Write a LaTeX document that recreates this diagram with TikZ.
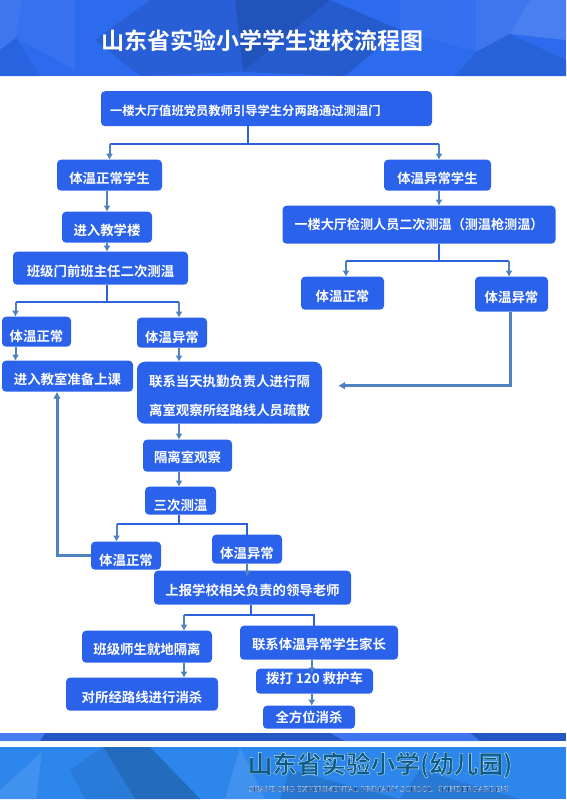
\documentclass[tikz,border=0pt]{standalone}
\usepackage{fontspec}
\setmainfont{Noto Sans CJK SC}[BoldFont={* Bold}]
\newfontfamily\logofont{Noto Sans CJK SC}[BoldFont={* Bold}]
\newfontfamily\enfont{Liberation Serif}
\usetikzlibrary{arrows.meta,positioning}
\definecolor{boxblue}{HTML}{2B62EC}
\definecolor{forkblue}{HTML}{2C62DC}
\definecolor{flowsteel}{HTML}{4F82BE}
\definecolor{headbase}{HTML}{2C6AEE}
\definecolor{footbase}{HTML}{2C86EC}
\definecolor{logoteal}{HTML}{0F5A82}

\begin{document}
\begin{tikzpicture}[x=1pt,y=-1pt,>=Latex,
 every node/.style={font=\fontsize{13.4}{15}\selectfont\bfseries,text=white,align=center},
 flowbox/.style={fill=boxblue,rounded corners=4pt,inner sep=0pt,outer sep=0pt},
 lowtext/.style={text height=16.2pt,text depth=0pt},
 lowertext/.style={text height=19.2pt,text depth=0pt},
 uptext/.style={text height=11.8pt,text depth=6.6pt},
 forkline/.style={draw=forkblue,line width=1.8pt},
 flowtip/.style={draw=flowsteel,line width=2pt,-{Latex[length=6pt,width=7pt]}},
 backline/.style={draw=flowsteel,line width=3pt,-{Latex[length=7pt,width=8pt]}}]
    \useasboundingbox (0,0) rectangle (566,800);
    % header
    \fill[headbase] (0,0) rectangle (566,76);
    \fill[color=black!22!headbase] (235,0) -- (330,0) -- (243,72) -- cycle;
    \fill[color=black!10!headbase] (150,0) -- (235,0) -- (243,72) -- (140,76) -- (95,40) -- cycle;
    \fill[color=black!14!headbase] (330,0) -- (243,72) -- (345,76) -- (400,30) -- cycle;
    \fill[color=white!8!headbase] (0,0) -- (22,0) -- (16,38) -- (0,50) -- cycle;
    \fill[color=white!5!headbase] (22,0) -- (75,0) -- (75,70) -- (16,38) -- cycle;
    \fill[color=black!6!headbase] (0,50) -- (16,38) -- (40,76) -- (0,76) -- cycle;
    \fill[color=white!4!headbase] (400,0) -- (476,0) -- (476,52) -- (400,30) -- cycle;
    \fill[color=white!8!headbase] (476,0) -- (530,0) -- (510,34) -- (476,52) -- cycle;
    \fill[color=white!14!headbase] (530,0) -- (566,0) -- (566,40) -- (510,34) -- cycle;
    \fill[color=black!8!headbase] (476,52) -- (510,34) -- (566,60) -- (566,76) -- (455,76) -- cycle;
    \node[font=\fontsize{23}{27}\selectfont\bfseries] (title) at (262.5,40.5) {山东省实验小学学生进校流程图};
    % footer
    \fill[color=black!18!headbase] (0,733) rectangle (566,741);
    \fill[color=white!12!headbase] (0,733) -- (45,733) -- (40,741) -- (0,741) -- cycle;
    \fill[color=white!8!headbase] (330,733) -- (470,733) -- (480,741) -- (345,741) -- cycle;
    \fill[footbase] (0,747) rectangle (566,799);
    \fill[color=white!10!footbase] (0,790) -- (42,752) -- (36,799) -- (0,799) -- cycle;
    \fill[color=black!20!footbase] (103,747) -- (150,747) -- (200,799) -- (135,799) -- cycle;
    \fill[color=black!8!footbase] (70,770) -- (103,747) -- (135,799) -- (85,799) -- cycle;
    \fill[color=white!10!footbase] (240,747) -- (265,799) -- (225,799) -- cycle;
    \fill[color=black!12!footbase] (290,770) -- (400,799) -- (280,799) -- cycle;
    \fill[color=black!10!footbase] (420,770) -- (520,799) -- (400,799) -- cycle;
    \node[font=\fontsize{24.6}{29}\selectfont\logofont\bfseries,text=logoteal] (logo) at (380,765)
      {\special{pdf:literal direct 2 Tr 0.4 w 0.75 0.9 0.96 RG}山东省实验小学(幼儿园)\special{pdf:literal direct 0 Tr}};
    \node[font=\fontsize{8.2}{11}\selectfont\enfont,text=black!70!blue] (logoen) at (381.5,788.5)
      {\special{pdf:literal direct 2 Tr 0.12 w 0.75 0.9 0.96 RG}SHANDONG EXPERIMENTAL PRIMARY SCHOOL{\logofont （}KINDERGARDEN{\logofont ）}\special{pdf:literal direct 0 Tr}};
    % boxes
    \node[flowbox,minimum width=331pt,minimum height=35pt,font=\fontsize{12.3}{15}\selectfont\bfseries,text width=313pt,align=left,text height=13.2pt,text depth=0pt] (hall) at (266.5,108.7)
      {一楼大厅值班党员教师引导学生分两路通过测温门};
    \node[flowbox,lowtext,minimum width=105pt,minimum height=31pt,below=33.5pt of hall,xshift=-157pt] (okfirst) {体温正常学生};
    \node[flowbox,lowtext,minimum width=107pt,minimum height=31pt,below=33.5pt of hall,xshift=171pt] (badfirst) {体温异常学生};
    \node[flowbox,lowtext,minimum width=90pt,minimum height=31pt,below=21pt of okfirst,xshift=-2.5pt] (enter) {进入教学楼};
    \node[flowbox,lowtext,minimum width=175pt,minimum height=33pt,below=9pt of enter,xshift=-6.5pt] (classdoor) {班级门前班主任二次测温};
    \node[flowbox,lowertext,minimum width=69pt,minimum height=30pt,below=32pt of classdoor,xshift=-64pt] (oksecond) {体温正常};
    \node[flowbox,lowertext,minimum width=70pt,minimum height=30pt,below=33pt of classdoor,xshift=71.5pt] (badsecond) {体温异常};
    \node[flowbox,lowtext,minimum width=131pt,minimum height=31pt,below=14pt of oksecond,xshift=31pt] (classroom) {进入教室准备上课};
    \node[flowbox,rounded corners=8pt,minimum width=185pt,minimum height=62pt,below=14pt of badsecond,xshift=57.5pt] (contact)
      {\rule{0pt}{17.4pt}联系当天执勤负责人进行隔\\[14pt]离室观察所经路线人员疏散};
    \node[flowbox,minimum width=89pt,minimum height=32pt,below=16pt of contact,xshift=-42pt,text height=13.2pt,text depth=0pt] (isolate) {隔离室观察};
    \node[flowbox,lowertext,minimum width=71pt,minimum height=28pt,below=15pt of isolate,xshift=-7pt] (third) {三次测温};
    \node[flowbox,lowertext,minimum width=70pt,minimum height=28pt,below=27pt of third,xshift=-54.5pt] (okthird) {体温正常};
    \node[flowbox,lowertext,minimum width=70pt,minimum height=29pt,below=20pt of third,xshift=66.5pt] (badthird) {体温异常};
    \node[flowbox,lowtext,minimum width=197pt,minimum height=34pt,below=7pt of badthird,xshift=5.5pt] (report) {上报学校相关负责的领导老师};
    \node[flowbox,lowtext,minimum width=130pt,minimum height=32pt,below=26pt of report,xshift=-105.5pt] (quarantine) {班级师生就地隔离};
    \node[flowbox,text height=14.2pt,text depth=0pt,minimum width=158pt,minimum height=34pt,below=21pt of report,xshift=66.5pt] (parents) {联系体温异常学生家长};
    \node[flowbox,lowtext,minimum width=152pt,minimum height=33pt,below=15pt of quarantine,xshift=-5pt] (disinfect) {对所经路线进行消杀};
    \node[flowbox,uptext,minimum width=117pt,minimum height=25pt,below=9pt of parents,xshift=-4.5pt] (ambulance) {拨打 120 救护车};
    \node[flowbox,minimum width=92pt,minimum height=23pt,below=12pt of ambulance,xshift=-5.5pt] (cleanall) {全方位消杀};
    \node[flowbox,font=\fontsize{13.1}{15}\selectfont\bfseries,minimum width=273pt,minimum height=38pt,below=15pt of badfirst,xshift=-18.5pt] (recheck) {一楼大厅检测人员二次测温（测温枪测温）};
    \node[flowbox,lowtext,minimum width=83pt,minimum height=33pt,below=33pt of recheck,xshift=-76.5pt] (okright) {体温正常};
    \node[flowbox,lowtext,minimum width=73pt,minimum height=35pt,below=33pt of recheck,xshift=92.5pt] (badright) {体温异常};
    % branch points
    \coordinate[below=17.5pt of hall,xshift=-18.5pt] (hallfork);
    \coordinate[below=17pt of classdoor,xshift=6.5pt] (doorfork);
    \coordinate[below=9pt of third,xshift=-1.5pt] (thirdfork);
    \coordinate[below=10pt of report,xshift=-1.8pt] (reportfork);
    \coordinate[below=17.5pt of recheck,xshift=20pt] (recheckfork);
    \coordinate[right=16pt of contact,yshift=7pt] (contactin);
    % connectors
    \draw[forkline] (hallfork|-hall.south) -- (hallfork);
    \draw[forkline] (okfirst.north|-hallfork) -- ([xshift=1.5pt]badfirst.north|-hallfork);
    \draw[flowtip] (okfirst.north|-hallfork) -- (okfirst.north);
    \draw[flowtip] ([xshift=1.5pt]badfirst.north|-hallfork) -- ([xshift=1.5pt]badfirst.north);
    \draw[flowtip] (enter.north|-okfirst.south) -- (enter.north);
    \draw[flowtip] (enter.south) -- (enter.south|-classdoor.north);
    \draw[forkline] (doorfork|-classdoor.south) -- (doorfork);
    \draw[forkline] ([xshift=-21pt]oksecond.north|-doorfork) -- ([xshift=7pt]badsecond.north|-doorfork);
    \draw[flowtip] ([xshift=-21pt]oksecond.north|-doorfork) -- ([xshift=-21pt]oksecond.north);
    \draw[flowtip] ([xshift=7pt]badsecond.north|-doorfork) -- ([xshift=7pt]badsecond.north);
    \draw[flowtip] ([xshift=-21pt]oksecond.south) -- ([xshift=-21pt]oksecond.south|-classroom.north);
    \draw[flowtip] ([xshift=7pt]badsecond.south) -- ([xshift=7pt]badsecond.south|-contact.north);
    \draw[flowtip] ([xshift=-8.5pt]isolate.north|-contact.south) -- ([xshift=-8.5pt]isolate.north);
    \draw[flowtip] ([xshift=-8.5pt]isolate.south) -- ([xshift=-8.5pt]isolate.south|-third.north);
    \draw[forkline] (thirdfork|-third.south) -- (thirdfork);
    \draw[forkline] ([xshift=-9.5pt]okthird.north|-thirdfork) -- (badthird.north|-thirdfork) -- (badthird.north);
    \draw[flowtip] ([xshift=-9.5pt]okthird.north|-thirdfork) -- ([xshift=-9.5pt]okthird.north);
    \draw[flowtip] (badthird.south) -- ([yshift=-6pt]badthird.south|-report.north);
    \draw[forkline] (reportfork|-report.south) -- (reportfork);
    \draw[forkline] ([xshift=37pt]quarantine.north|-reportfork) -- ([xshift=-4.7pt]parents.north|-reportfork) -- ([xshift=-4.7pt]parents.north);
    \draw[flowtip] ([xshift=37pt]quarantine.north|-reportfork) -- ([xshift=37pt]quarantine.north);
    \draw[flowtip] ([xshift=37pt]quarantine.south) -- ([xshift=37pt]quarantine.south|-disinfect.north);
    \draw[flowtip] ([xshift=-7.3pt]parents.south) -- ([xshift=-7.3pt,yshift=-5pt]parents.south|-ambulance.north);
    \draw[flowtip] ([xshift=-2.8pt]ambulance.south) -- ([xshift=-2.8pt]ambulance.south|-cleanall.north);
    \draw[flowtip] ([xshift=1.5pt]badfirst.south) -- ([xshift=1.5pt]badfirst.south|-recheck.north);
    \draw[forkline] (recheckfork|-recheck.south) -- (recheckfork);
    \draw[forkline] ([xshift=3.5pt]okright.north|-recheckfork) -- ([xshift=-2.5pt]badright.north|-recheckfork);
    \draw[flowtip] ([xshift=3.5pt]okright.north|-recheckfork) -- ([xshift=3.5pt]okright.north);
    \draw[flowtip] ([xshift=-2.5pt]badright.north|-recheckfork) -- ([xshift=-2.5pt]badright.north);
    \draw[backline] (okthird.west) -| ([xshift=-10.5pt]classroom.south);
    \draw[backline] ([xshift=-1.5pt]badright.south) |- (contactin);
\end{tikzpicture}
\end{document}
